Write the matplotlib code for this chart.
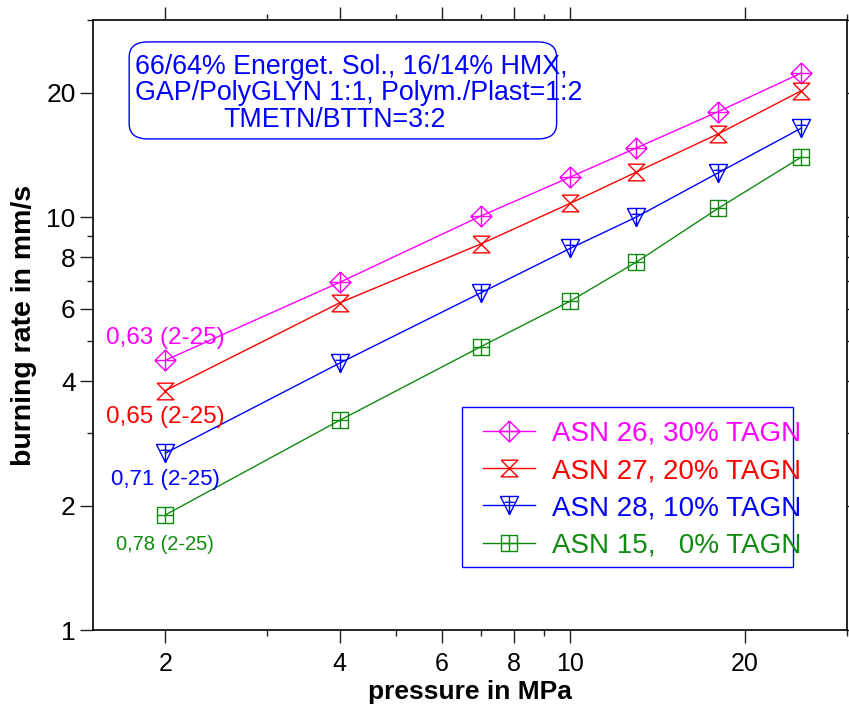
import matplotlib
matplotlib.use("Agg")
import matplotlib.pyplot as plt
import numpy as np
from matplotlib.path import Path
from matplotlib.patches import FancyBboxPatch, Rectangle
from matplotlib.ticker import FixedLocator, NullFormatter, FixedFormatter

plt.rcParams['font.family'] = ['Liberation Sans', 'DejaVu Sans']

# data
pressure = [2, 4, 7, 10, 13, 18, 25]
asn26 = [4.5, 6.95, 10.05, 12.5, 14.7, 18.0, 22.3]
asn27 = [3.8, 6.2, 8.6, 10.8, 12.85, 15.9, 20.2]
asn28 = [2.68, 4.43, 6.55, 8.4, 10.0, 12.8, 16.4]
asn15 = [1.9, 3.22, 4.85, 6.26, 7.78, 10.5, 13.95]

labels = ['ASN 26, 30% TAGN', 'ASN 27, 20% TAGN', 'ASN 28, 10% TAGN', 'ASN 15,   0% TAGN']
colors = ['#ff00ff', '#ff0000', '#0000ff', '#108a10']
exponents = ['0,63 (2-25)', '0,65 (2-25)', '0,71 (2-25)', '0,78 (2-25)']
exp_y = [5.09, 3.28, 2.32, 1.615]
exp_size = [17.5, 17.5, 16, 14.5]

M, L = Path.MOVETO, Path.LINETO
diamond_plus = Path([(0, 1), (1, 0), (0, -1), (-1, 0), (0, 1), (-1, 0), (1, 0), (0, 1), (0, -1)],
                    [M, L, L, L, L, M, L, M, L])
hourglass = Path([(-1, 1), (1, 1), (-1, -1), (1, -1), (-1, 1)], [M, L, L, L, L])
tri_plus = Path([(-1, 1), (1, 1), (0, -1), (-1, 1), (-0.55, 0.35), (0.55, 0.35), (0, 1), (0, -1)],
                [M, L, L, L, M, L, M, L])
square_plus = Path([(-1, -1), (1, -1), (1, 1), (-1, 1), (-1, -1), (-1, 0), (1, 0), (0, 1), (0, -1)],
                   [M, L, L, L, L, M, L, M, L])
markers = [diamond_plus, hourglass, tri_plus, square_plus]
sizes = [15, 12, 13, 11]

fig = plt.figure(figsize=(8.49, 7.13), dpi=100)
ax = fig.add_axes([0.1095, 0.1164, 0.888, 0.8556])

series = [asn26, asn27, asn28, asn15]
handles = []
for vals, c, m, s, lab in zip(series, colors, markers, sizes, labels):
    h, = ax.plot(pressure, vals, color=c, lw=1.0, marker=m, markersize=s,
                 markerfacecolor='none', markeredgecolor=c, markeredgewidth=1.0, label=lab)
    handles.append(h)

ax.set_xscale('log')
ax.set_yscale('log')
ax.set_xlim(1.5, 30)
ax.set_ylim(1, 30)

ax.xaxis.set_major_locator(FixedLocator([2, 4, 6, 8, 10, 20]))
ax.xaxis.set_major_formatter(FixedFormatter(['2', '4', '6', '8', '10', '20']))
ax.xaxis.set_minor_locator(FixedLocator([3, 5, 7, 9, 30]))
ax.xaxis.set_minor_formatter(NullFormatter())
ax.yaxis.set_major_locator(FixedLocator([1, 2, 4, 6, 8, 10, 20]))
ax.yaxis.set_major_formatter(FixedFormatter(['1', '2', '4', '6', '8', '10', '20']))
ax.yaxis.set_minor_locator(FixedLocator([3, 5, 7, 9, 30]))
ax.yaxis.set_minor_formatter(NullFormatter())

ax.tick_params(which='both', direction='out', top=True, right=True, width=1.0, color='#222222')
ax.tick_params(which='major', length=9.5, pad=3)
ax.tick_params(axis='x', which='major', labelsize=18, pad=6)
ax.tick_params(axis='y', which='major', labelsize=19)
ax.tick_params(which='minor', length=4.5)
for sp in ax.spines.values():
    sp.set_linewidth(1.2)

ax.set_xlabel('pressure in MPa', fontsize=19, fontweight='bold', labelpad=3)
ax.set_ylabel('burning rate in mm/s', fontsize=20.5, fontweight='bold', labelpad=7)

# exponent annotations
for txt, yv, c, fs in zip(exponents, exp_y, colors, exp_size):
    ax.text(2, yv, txt, color=c, fontsize=fs, ha='center', va='center')

# composition box
box = FancyBboxPatch((0.048, 0.805), 0.567, 0.159, transform=ax.transAxes,
                     boxstyle='round,pad=0,rounding_size=0.025', fc='none', ec='#0000ff', lw=1.0)
ax.add_patch(box)
ax.text(0.0557, 0.9115, '66/64% Energet. Sol., 16/14% HMX,', transform=ax.transAxes,
        color='#0000ff', fontsize=19.3, va='baseline', ha='left')
ax.text(0.0557, 0.8689, 'GAP/PolyGLYN 1:1, Polym./Plast=1:2', transform=ax.transAxes,
        color='#0000ff', fontsize=19.3, va='baseline', ha='left')
ax.text(0.1724, 0.8246, 'TMETN/BTTN=3:2', transform=ax.transAxes,
        color='#0000ff', fontsize=19.3, va='baseline', ha='left')

# legend
ax.add_patch(Rectangle((0.489, 0.103), 0.439, 0.2626, transform=ax.transAxes,
                       fc='white', ec='#0000ff', lw=1.0, zorder=3))
leg = ax.legend(handles=handles, loc='upper left', bbox_to_anchor=(0.503, 0.361),
                frameon=False, fontsize=20, handlelength=1.87, handletextpad=0.61,
                labelspacing=0.40, borderaxespad=0)
leg.set_zorder(4)
for t, c in zip(leg.get_texts(), colors):
    t.set_color(c)

fig.savefig('out.png', dpi=100)
